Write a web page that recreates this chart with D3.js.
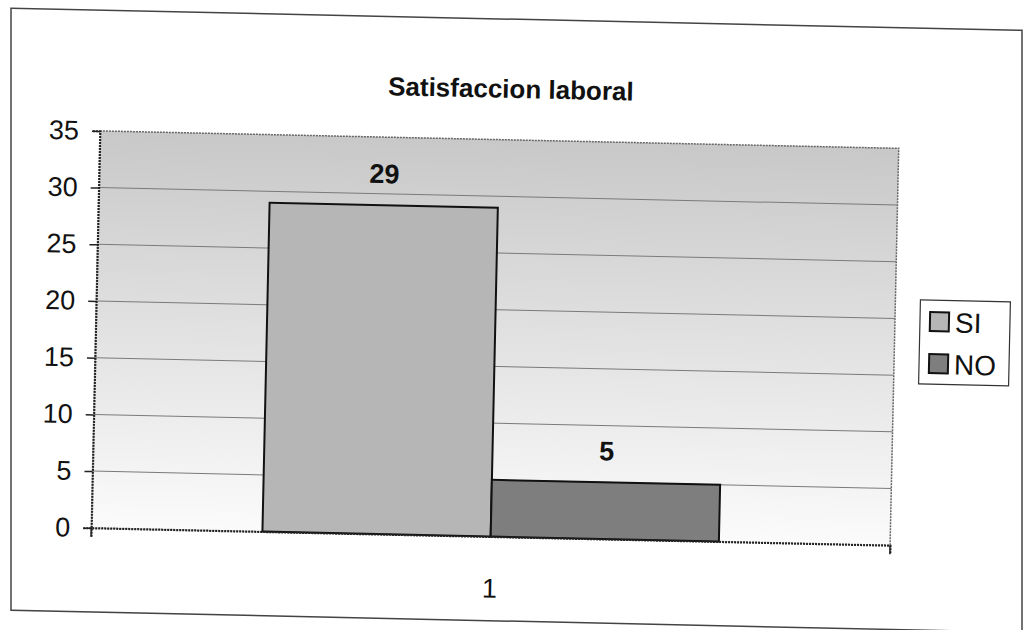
<!DOCTYPE html>
<html>
<head>
<meta charset="utf-8">
<script src="https://cdn.jsdelivr.net/npm/d3@7"></script>
<style>
  body { margin: 0; background: #fff; }
  text { font-family: "Liberation Sans", Arial, sans-serif; fill: #111; }
</style>
</head>
<body>
<svg id="chart" width="1029" height="630"></svg>
<script>
// chart data
var title = "Satisfaccion laboral";
var categories = ["1"];
var series = ["SI", "NO"];
var values = [29, 5];
var yTicks = [0, 5, 10, 15, 20, 25, 30, 35];
var seriesColors = ["#b6b6b6", "#7e7e7e"];

var width = 1029,
    height = 630,
    plot = {left: 96, top: 140, right: 895, bottom: 537};

var svg = d3.select("#chart");

// outer frame: the scan leans it a bit, but its sides stay upright
svg.append("g")
    .attr("transform", "skewY(1.25)")
  .append("rect")
    .attr("x", 11).attr("y", 8)
    .attr("width", 1011).attr("height", 602)
    .attr("fill", "#fff")
    .attr("stroke", "#444")
    .attr("stroke-width", 1.5);

// the chart itself is tilted, so it sits in one rotated group
var root = svg.append("g")
    .attr("transform", "rotate(1.25," + width / 2 + "," + height / 2 + ")");

root.append("text")
    .attr("x", 506).attr("y", 98)
    .attr("text-anchor", "middle")
    .style("font-size", "26px")
    .style("font-weight", "bold")
    .text(title);

var x0 = d3.scaleBand()
    .domain(categories)
    .range([plot.left, plot.right])
    .paddingOuter(0.375);

var x1 = d3.scaleBand()
    .domain(series)
    .range([0, x0.bandwidth()]);

var y = d3.scaleLinear()
    .domain([0, 35])
    .range([plot.bottom, plot.top]);

// plot area gradient
var defs = svg.append("defs");
var grad = defs.append("linearGradient")
    .attr("id", "bg")
    .attr("x1", 0).attr("y1", 0)
    .attr("x2", 0).attr("y2", 1);
grad.append("stop").attr("offset", "0%").attr("stop-color", "#c8c8c8");
grad.append("stop").attr("offset", "100%").attr("stop-color", "#fbfbfb");

root.append("rect")
    .attr("x", plot.left).attr("y", plot.top)
    .attr("width", plot.right - plot.left)
    .attr("height", plot.bottom - plot.top)
    .attr("fill", "url(#bg)")
    .attr("stroke", "#666")
    .attr("stroke-width", 1.5)
    .attr("stroke-dasharray", "2,1");

// gridlines
root.append("g")
    .selectAll("line")
    .data(yTicks.filter(function(d) { return d > 0 && d < 35; }))
    .enter().append("line")
      .attr("x1", plot.left).attr("x2", plot.right)
      .attr("y1", function(d) { return y(d); })
      .attr("y2", function(d) { return y(d); })
      .attr("stroke", "#7a7a7a")
      .attr("stroke-width", 1);

// bars
var bars = root.append("g")
    .selectAll("g")
    .data(categories)
    .enter().append("g")
      .attr("transform", function(d) { return "translate(" + x0(d) + ",0)"; });

bars.selectAll("rect")
    .data(series.map(function(s, i) { return {key: s, value: values[i], i: i}; }))
    .enter().append("rect")
      .attr("x", function(d) { return x1(d.key); })
      .attr("y", function(d) { return y(d.value); })
      .attr("width", x1.bandwidth())
      .attr("height", function(d) { return y(0) - y(d.value); })
      .attr("fill", function(d) { return seriesColors[d.i]; })
      .attr("stroke", "#111")
      .attr("stroke-width", 2);

bars.selectAll("text.lbl")
    .data(series.map(function(s, i) { return {key: s, value: values[i]}; }))
    .enter().append("text")
      .attr("class", "lbl")
      .attr("x", function(d) { return x1(d.key) + x1.bandwidth() / 2; })
      .attr("y", function(d) { return y(d.value) - 22; })
      .attr("text-anchor", "middle")
      .style("font-size", "27px")
      .style("font-weight", "bold")
      .text(function(d) { return d.value; });

// axes
var yAxis = root.append("g")
    .attr("transform", "translate(" + plot.left + ",0)")
    .call(d3.axisLeft(y).tickValues(yTicks).tickSize(8).tickPadding(13));

var xAxis = root.append("g")
    .attr("transform", "translate(0," + plot.bottom + ")")
    .call(d3.axisBottom(x0).tickSize(9).tickPadding(33));

// category boundary ticks at both ends
xAxis.selectAll(".tick line").remove();
xAxis.selectAll(".edge")
    .data([plot.left, plot.right])
    .enter().append("line")
      .attr("x1", function(d) { return d; })
      .attr("x2", function(d) { return d; })
      .attr("y1", 0).attr("y2", 9)
      .attr("stroke", "#222")
      .attr("stroke-width", 1.5);

[yAxis, xAxis].forEach(function(ax) {
  ax.select(".domain")
    .attr("stroke", "#222")
    .attr("stroke-width", 2)
    .attr("stroke-dasharray", "2,1");
  ax.selectAll(".tick line").attr("stroke", "#222").attr("stroke-width", 1.5);
  ax.selectAll("text")
    .style("font-family", "'Liberation Sans', Arial, sans-serif")
    .style("font-size", "27px")
    .attr("fill", "#111");
});

// legend
var legend = root.append("g")
    .attr("transform", "translate(920,291)");

legend.append("rect")
    .attr("width", 90).attr("height", 84)
    .attr("fill", "#fff")
    .attr("stroke", "#333")
    .attr("stroke-width", 1.2);

var items = legend.selectAll(".item")
    .data(series)
    .enter().append("g")
      .attr("class", "item")
      .attr("transform", function(d, i) { return "translate(10," + (12 + i * 42) + ")"; });

items.append("rect")
    .attr("width", 19).attr("height", 19)
    .attr("fill", function(d, i) { return seriesColors[i]; })
    .attr("stroke", "#111")
    .attr("stroke-width", 2);

items.append("text")
    .attr("x", 25).attr("y", 20)
    .style("font-size", "28px")
    .text(function(d) { return d; });
</script>
</body>
</html>
